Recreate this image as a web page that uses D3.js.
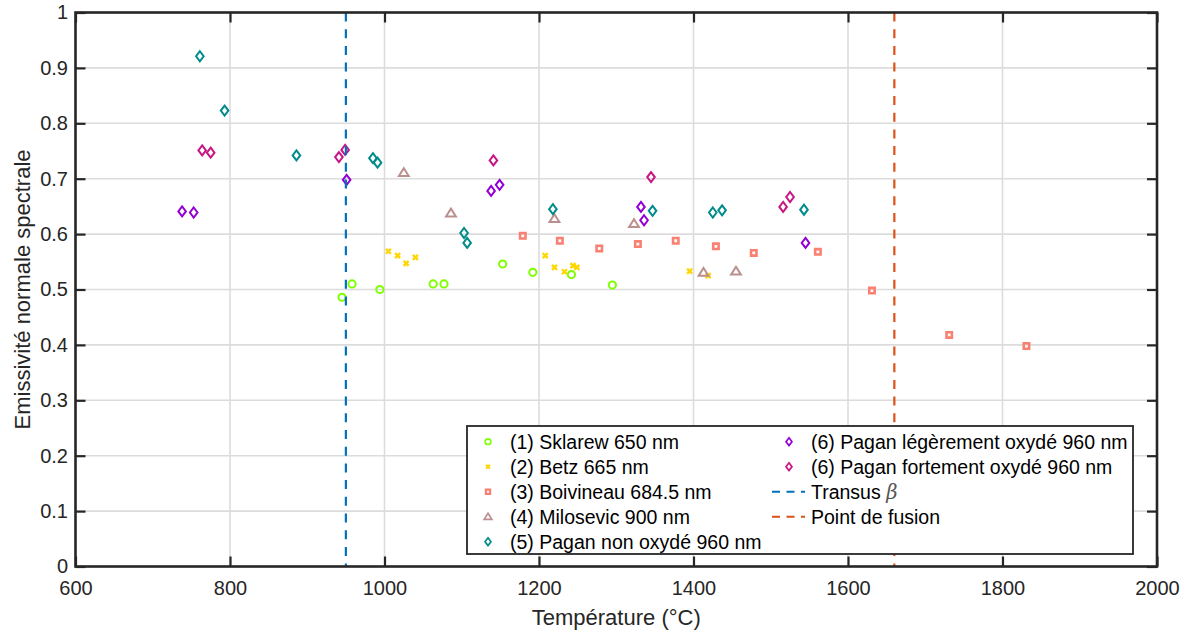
<!DOCTYPE html>
<html><head><meta charset="utf-8">
<script src="https://cdn.jsdelivr.net/npm/d3@7"></script>
<style>body{margin:0;background:#fff}svg{display:block}text{font-family:"Liberation Sans",Arial,sans-serif}</style>
</head><body><svg id="c" width="1192" height="632"></svg>
<script>
// ---- data ----
const xTickValues = [600, 800, 1000, 1200, 1400, 1600, 1800, 2000];
const xTickLabels = ["600", "800", "1000", "1200", "1400", "1600", "1800", "2000"];
const yTickValues = [0, 0.1, 0.2, 0.3, 0.4, 0.5, 0.6, 0.7, 0.8, 0.9, 1];
const yTickLabels = ["0", "0.1", "0.2", "0.3", "0.4", "0.5", "0.6", "0.7", "0.8", "0.9", "1"];

const sklarewT = [945, 958, 994, 1063, 1077, 1153, 1192, 1242, 1295];
const sklarewE = [0.486, 0.510, 0.500, 0.510, 0.510, 0.546, 0.531, 0.527, 0.508];

const betzT = [1005, 1017, 1028, 1040, 1208, 1220, 1233, 1244, 1249, 1395, 1419];
const betzE = [0.569, 0.561, 0.547, 0.558, 0.561, 0.540, 0.532, 0.543, 0.540, 0.533, 0.525];

const boivineauT = [1179, 1227, 1278, 1328, 1377, 1429, 1478, 1561, 1631, 1731, 1831];
const boivineauE = [0.597, 0.588, 0.574, 0.582, 0.588, 0.578, 0.566, 0.568, 0.498, 0.418, 0.398];

const milosevicT = [1025, 1086, 1220, 1323, 1413, 1455];
const milosevicE = [0.711, 0.638, 0.628, 0.619, 0.531, 0.533];

const paganNonT = [761, 793, 886, 985, 991, 1103, 1107, 1218, 1347, 1425, 1437, 1543];
const paganNonE = [0.921, 0.823, 0.742, 0.737, 0.729, 0.602, 0.584, 0.645, 0.642, 0.639, 0.643, 0.644];

const paganLegT = [738, 753, 951, 1138, 1149, 1332, 1336, 1545];
const paganLegE = [0.641, 0.639, 0.698, 0.678, 0.689, 0.649, 0.625, 0.584];

const paganFortT = [764, 775, 941, 949, 1141, 1345, 1516, 1525];
const paganFortE = [0.751, 0.747, 0.739, 0.752, 0.733, 0.703, 0.649, 0.667];

const transusT = 950;
const fusionT = 1660;

const seriesNames = ["(1) Sklarew 650 nm", "(2) Betz 665 nm", "(3) Boivineau 684.5 nm",
  "(4) Milosevic 900 nm", "(5) Pagan non oxydé 960 nm",
  "(6) Pagan légèrement oxydé 960 nm", "(6) Pagan fortement oxydé 960 nm"];
const seriesColors = ["#7fff00", "#ffd700", "#fa8072", "#bc8f8f", "#008b8b", "#9400d3", "#c71585"];
const seriesMarkers = ["circle", "x", "square", "triangle", "diamond", "diamond", "diamond"];
const seriesT = [sklarewT, betzT, boivineauT, milosevicT, paganNonT, paganLegT, paganFortT];
const seriesE = [sklarewE, betzE, boivineauE, milosevicE, paganNonE, paganLegE, paganFortE];

const lineNames = ["Transus ", "Point de fusion"];
const lineColors = ["#0072bd", "#d95319"];

// ---- layout ----
const L = 75.5, R = 1157, T = 12.5, B = 566.5;
const svg = d3.select("#c");
const x = d3.scaleLinear().domain([600, 2000]).range([L, R]);
const y = d3.scaleLinear().domain([0, 1]).range([B, T]);
const axisColor = "#262626";

// grid
const g = svg.append("g");
g.selectAll(".vg").data(xTickValues.slice(1, -1)).enter().append("line")
  .attr("x1", d => x(d)).attr("x2", d => x(d)).attr("y1", T).attr("y2", B)
  .attr("stroke", "#dcdcdc").attr("stroke-width", 1.6);
g.selectAll(".hg").data(yTickValues.slice(1, -1)).enter().append("line")
  .attr("x1", L).attr("x2", R).attr("y1", d => y(d)).attr("y2", d => y(d))
  .attr("stroke", "#dcdcdc").attr("stroke-width", 1.6);

// marker shapes
function markerPath(type, s) {
  switch (type) {
    case "diamond": return `M0,${-5*s}L${3.8*s},0L0,${5*s}L${-3.8*s},0Z`;
    case "square": return `M${-2.7*s},${-2.7*s}h${5.4*s}v${5.4*s}h${-5.4*s}Z`;
    case "triangle": return `M0,${-4.4*s}L${4.9*s},${3.4*s}L${-4.9*s},${3.4*s}Z`;
    case "x": return `M${-2.5*s},${-2.5*s}L${2.5*s},${2.5*s}M${2.5*s},${-2.5*s}L${-2.5*s},${2.5*s}`;
    case "circle": return d3.path ? (() => { const p = d3.path(); p.arc(0, 0, 3.6*s, 0, 2*Math.PI); p.closePath(); return p.toString(); })() : "";
  }
}
const markerStroke = {circle: 2, x: 2.4, square: 2.6, triangle: 2, diamond: 2};

// series
seriesT.forEach((ts, i) => {
  const pts = ts.map((t, k) => [t, seriesE[i][k]]);
  svg.append("g").selectAll("path").data(pts).enter().append("path")
    .attr("transform", d => `translate(${x(d[0])},${y(d[1])})`)
    .attr("d", markerPath(seriesMarkers[i], 1))
    .attr("fill", "none").attr("stroke", seriesColors[i])
    .attr("stroke-width", markerStroke[seriesMarkers[i]]);
});

// vertical dashed lines
[transusT, fusionT].forEach((t, i) => {
  svg.append("line").attr("x1", x(t)).attr("x2", x(t)).attr("y1", T).attr("y2", B)
    .attr("stroke", lineColors[i]).attr("stroke-width", 2.2).attr("stroke-dasharray", "9,7.7");
});

// axes
const xAxis = d3.axisBottom(x).tickValues(xTickValues).tickFormat((d, i) => xTickLabels[i])
  .tickSizeInner(-10).tickSizeOuter(0).tickPadding(14.3);
const yAxis = d3.axisLeft(y).tickValues(yTickValues).tickFormat((d, i) => yTickLabels[i])
  .tickSizeInner(-10).tickSizeOuter(0).tickPadding(7.5);
const gx = svg.append("g").attr("transform", `translate(0,${B})`).call(xAxis);
const gy = svg.append("g").attr("transform", `translate(${L},0)`).call(yAxis);
const gxt = svg.append("g").attr("transform", `translate(0,${T})`)
  .call(d3.axisTop(x).tickValues(xTickValues).tickFormat("").tickSizeInner(-10).tickSizeOuter(0));
const gyr = svg.append("g").attr("transform", `translate(${R},0)`)
  .call(d3.axisRight(y).tickValues(yTickValues).tickFormat("").tickSizeInner(-10).tickSizeOuter(0));
[gx, gy, gxt, gyr].forEach(a => {
  a.select(".domain").remove();
  a.selectAll(".tick line").attr("stroke", axisColor).attr("stroke-width", 2.2);
  a.selectAll(".tick text").attr("fill", axisColor).style("font-size", "20px")
    .style("font-family", '"Liberation Sans", Arial, sans-serif');
});
svg.append("rect").attr("x", L).attr("y", T).attr("width", R - L).attr("height", B - T)
  .attr("fill", "none").attr("stroke", axisColor).attr("stroke-width", 2.6);

// axis labels
svg.append("text").attr("x", (L + R) / 2).attr("y", 625).attr("text-anchor", "middle")
  .attr("fill", axisColor).style("font-size", "22px").text("Température (°C)");
svg.append("text").attr("transform", `translate(30,${(T + B) / 2}) rotate(-90)`)
  .attr("text-anchor", "middle").attr("fill", axisColor).style("font-size", "22px")
  .text("Emissivité normale spectrale");

// legend
const lg = svg.append("g");
lg.append("rect").attr("x", 467).attr("y", 426).attr("width", 666).attr("height", 128)
  .attr("fill", "#fff").attr("stroke", axisColor).attr("stroke-width", 1.8);
const rowY = k => 441.7 + 25 * k;
const legendItems = seriesNames.map((n, i) => ({name: n, kind: "m", i: i}))
  .concat(lineNames.map((n, i) => ({name: n, kind: "l", i: i})));
legendItems.forEach((it, idx) => {
  const col = idx < 5 ? 0 : 1;
  const row = idx < 5 ? idx : idx - 5;
  const mx = col === 0 ? 488 : 789;
  const tx = col === 0 ? 510 : 811;
  const cy = rowY(row);
  if (it.kind === "m") {
    lg.append("path").attr("transform", `translate(${mx},${cy})`)
      .attr("d", markerPath(seriesMarkers[it.i], 0.78)).attr("fill", "none")
      .attr("stroke", seriesColors[it.i]).attr("stroke-width", markerStroke[seriesMarkers[it.i]] * 0.85);
  } else {
    lg.append("line").attr("x1", 772).attr("x2", 805).attr("y1", cy).attr("y2", cy)
      .attr("stroke", lineColors[it.i]).attr("stroke-width", 2).attr("stroke-dasharray", "8,6.5");
  }
  const t = lg.append("text").attr("x", tx).attr("y", cy).attr("dy", "0.35em")
    .attr("fill", "#000").style("font-size", "19.5px").text(it.name);
  if (it.kind === "l" && it.i === 0) {
    t.append("tspan").style("font-family", '"DejaVu Serif", serif').style("font-style", "italic")
      .attr("fill", "#555").text("β");
  }
});
</script></body></html>
